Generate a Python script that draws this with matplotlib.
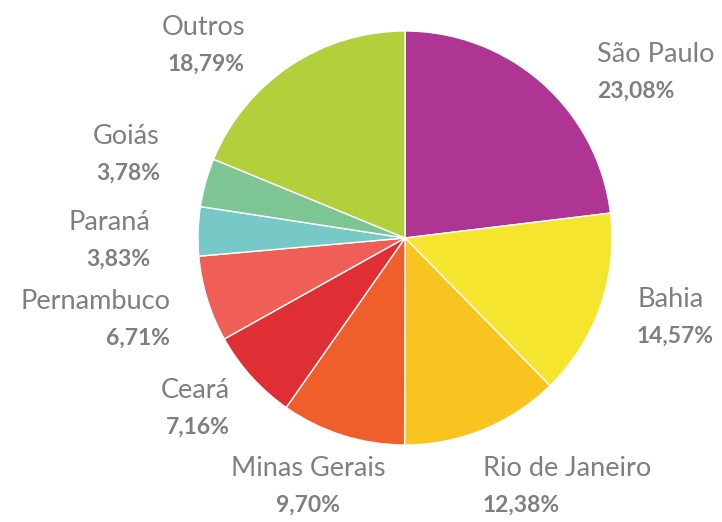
import matplotlib
matplotlib.use("Agg")
import matplotlib.pyplot as plt

categories = ["São Paulo", "Bahia", "Rio de Janeiro", "Minas Gerais", "Ceará",
              "Pernambuco", "Paraná", "Goiás", "Outros"]
values = [23.08, 14.57, 12.38, 9.70, 7.16, 6.71, 3.83, 3.78, 18.79]
value_labels = ["23,08%", "14,57%", "12,38%", "9,70%", "7,16%",
                "6,71%", "3,83%", "3,78%", "18,79%"]
colors = ["#AF3595", "#F5E52E", "#F9C41F", "#F05E2B", "#E02F34",
          "#EF5F57", "#77C9C8", "#7DC593", "#B2CF3C"]

# label layout (pie radius = 1, centre = 0,0)
label_pos = [(0.928, 0.797), (1.121, -0.386), (0.377, -1.203), (-0.469, -1.203),
             (-0.845, -0.826), (-1.135, -0.396), (-1.232, -0.014), (-1.184, 0.401),
             (-0.773, 0.928)]
label_ha = ["left", "left", "left", "center", "right", "right", "right", "right", "right"]

fig = plt.figure(figsize=(7.22, 5.22), dpi=100)
ax = fig.add_axes([0, 0, 1, 1])
ax.pie(values, colors=colors, startangle=90, counterclock=False, radius=1.0,
       wedgeprops=dict(edgecolor="white", linewidth=1.0))
ax.set_xlim(-405 / 207, (722 - 405) / 207)
ax.set_ylim((238 - 522) / 207, 238 / 207)
ax.set_aspect("equal", adjustable="box")
ax.axis("off")

gray = "#7F7F7F"
for name, val, (x, y), ha in zip(categories, value_labels, label_pos, label_ha):
    ax.annotate(name, (x, y), xytext=(0, 13.3), textcoords="offset points",
                ha=ha, va="center", fontsize=19.5, color=gray, family="Lato")
    ax.annotate(val, (x, y), xytext=(0, -13.3), textcoords="offset points",
                ha=ha, va="center", fontsize=16.5, color=gray, family="Lato",
                fontweight="bold")

fig.savefig("out.png", dpi=100)
